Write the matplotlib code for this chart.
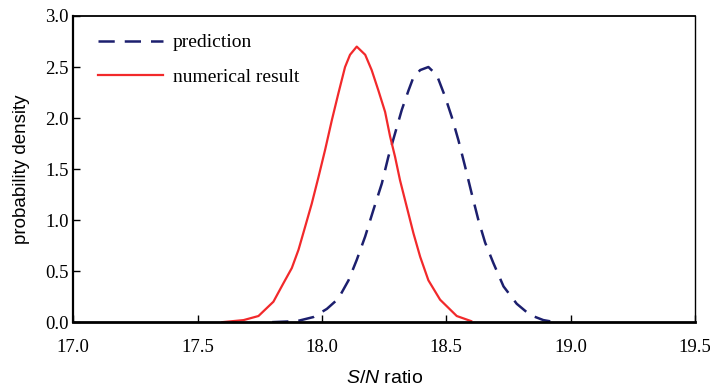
import matplotlib
matplotlib.use('Agg')
import matplotlib.pyplot as plt

# 数值结果 (红色实线)
num_x = [17.600, 17.685, 17.745, 17.805, 17.845, 17.879, 17.906, 17.932, 17.959, 17.986,
         18.013, 18.040, 18.066, 18.093, 18.113, 18.140, 18.174, 18.200, 18.227, 18.254,
         18.274, 18.294, 18.314, 18.341, 18.368, 18.395, 18.428, 18.475, 18.542, 18.600]
num_y = [0.00, 0.02, 0.06, 0.20, 0.38, 0.53, 0.71, 0.93, 1.16, 1.42,
         1.69, 1.98, 2.24, 2.50, 2.62, 2.70, 2.62, 2.47, 2.27, 2.06,
         1.82, 1.62, 1.39, 1.13, 0.87, 0.64, 0.41, 0.22, 0.06, 0.01]

# 预测 (蓝色虚线)
pred_x = [17.800, 17.900, 17.966, 18.020, 18.066, 18.107, 18.140, 18.174, 18.207, 18.241,
          18.267, 18.294, 18.321, 18.348, 18.368, 18.395, 18.428, 18.462, 18.495, 18.522,
          18.549, 18.576, 18.602, 18.629, 18.656, 18.689, 18.730, 18.783, 18.837, 18.890,
          18.937]
pred_y = [0.00, 0.01, 0.05, 0.13, 0.23, 0.41, 0.61, 0.84, 1.10, 1.36,
          1.62, 1.85, 2.08, 2.27, 2.40, 2.47, 2.50, 2.42, 2.21, 2.01,
          1.78, 1.52, 1.26, 1.00, 0.78, 0.58, 0.35, 0.18, 0.07, 0.02,
          0.00]

x_ticks = [17.0, 17.5, 18.0, 18.5, 19.0, 19.5]
y_ticks = [0.0, 0.5, 1.0, 1.5, 2.0, 2.5, 3.0]

serif = 'Liberation Serif'
sans = 'Liberation Sans'

# S/N 用斜体无衬线
plt.rcParams['mathtext.fontset'] = 'custom'
plt.rcParams['mathtext.it'] = 'Liberation Sans:italic'
plt.rcParams['mathtext.rm'] = 'Liberation Sans'

fig = plt.figure(figsize=(7.1, 3.9), dpi=100)
ax = fig.add_axes([0.103, 0.174, 0.876, 0.785])

ax.plot(pred_x, pred_y, color='#1c1f6e', linewidth=1.8, linestyle=(0, (6.5, 4)),
        label='prediction')
ax.plot(num_x, num_y, color='#f2292b', linewidth=1.6, label='numerical result')

ax.set_xlim(17.0, 19.5)
ax.set_ylim(0, 3.0)
ax.set_xticks(x_ticks)
ax.set_yticks(y_ticks)
ax.set_xticklabels([f'{v:.1f}' for v in x_ticks], fontfamily=serif, fontsize=13.5)
ax.set_yticklabels([f'{v:.1f}' for v in y_ticks], fontfamily=serif, fontsize=13.5)
ax.tick_params(axis='x', direction='in', length=5, width=1, pad=12)
ax.tick_params(axis='y', direction='in', length=5, width=1, pad=3)

ax.spines['left'].set_linewidth(1.6)
ax.spines['bottom'].set_linewidth(2.0)
ax.spines['top'].set_linewidth(1.3)
ax.spines['right'].set_linewidth(1.0)

ax.set_xlabel(r'$\it{S/N}$ ratio', fontfamily=sans, fontsize=14, labelpad=10)
ax.set_ylabel('probability density', fontfamily=sans, fontsize=13.5, labelpad=11)

ax.legend(loc='upper left', bbox_to_anchor=(0.027, 0.967), borderaxespad=0,
          frameon=False, prop={'family': serif, 'size': 14},
          handlelength=3.35, handletextpad=0.5, labelspacing=0.85)

fig.savefig('out.png', dpi=100)
plt.close(fig)
